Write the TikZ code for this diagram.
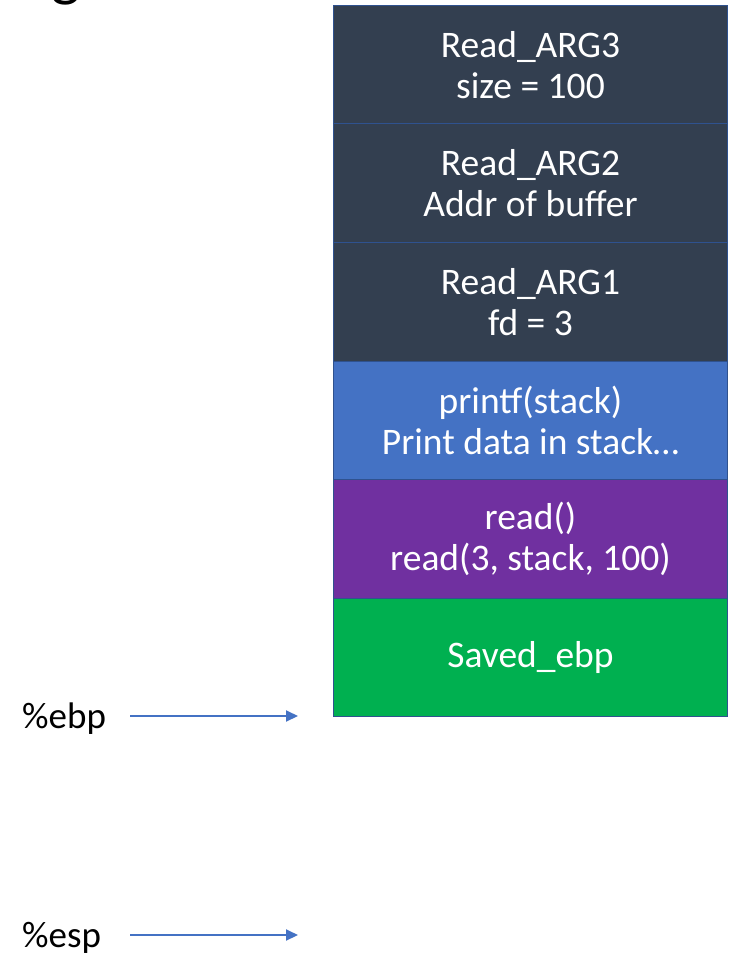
\documentclass[tikz,border=0pt]{standalone}
\usepackage{fontspec}
\setmainfont{Carlito}
\usetikzlibrary{arrows.meta}
\definecolor{slate}{HTML}{333F50}
\definecolor{accblue}{HTML}{4472C4}
\definecolor{accpurple}{HTML}{7030A0}
\definecolor{accgreen}{HTML}{00B050}
\definecolor{edgeblue}{HTML}{2F528F}
\tikzset{
  cell/.style={draw=edgeblue, line width=1pt, anchor=north west,
    minimum width=394pt, minimum height=118.5pt, inner sep=0pt,
    text=white, align=center,
    font=\fontsize{37.5}{41}\selectfont},
  reglabel/.style={anchor=base west, inner sep=0pt,
    font=\fontsize{37}{41}\selectfont},
  ptr/.style={draw=accblue, line width=2pt,
    -{Triangle[length=12pt,width=11pt]}}
}
\begin{document}
\begin{tikzpicture}[x=1pt,y=-1pt]
\useasboundingbox (0,0) rectangle (732,955);
% tail of the heading, cut off at the top edge
\begin{scope}
  \clip (0,0) rectangle (732,955);
  \node[anchor=base, inner sep=0pt, font=\fontsize{62}{62}\selectfont] (heading) at (66,-5) {g};
\end{scope}
% stack frame, highest address at the top
\node[cell, fill=slate]      (arg3)  at (333,5)     {Read\_ARG3\\size = 100};
\node[cell, fill=slate]      (arg2)  at (333,123.5) {Read\_ARG2\\Addr of buffer};
\node[cell, fill=slate]      (arg1)  at (333,242)   {Read\_ARG1\\fd = 3};
\node[cell, fill=accblue]    (pf)    at (333,360.5) {printf(stack)\\Print data in stack…};
\node[cell, fill=accpurple]  (rd)    at (333,479)   {read()\\read(3, stack, 100)};
\node[cell, fill=accgreen]   (saved) at (333,597.5) {Saved\_ebp};
% register pointers
\node[reglabel] (ebp) at (22,728) {\%ebp};
\node[reglabel] (esp) at (22,947) {\%esp};
\coordinate (ebpfrom) at (130,716);
\coordinate (ebpto)   at (298,716);
\coordinate (espfrom) at (130,935);
\coordinate (espto)   at (298,935);
\draw[ptr] (ebpfrom) -- (ebpto);
\draw[ptr] (espfrom) -- (espto);
\end{tikzpicture}
\end{document}
